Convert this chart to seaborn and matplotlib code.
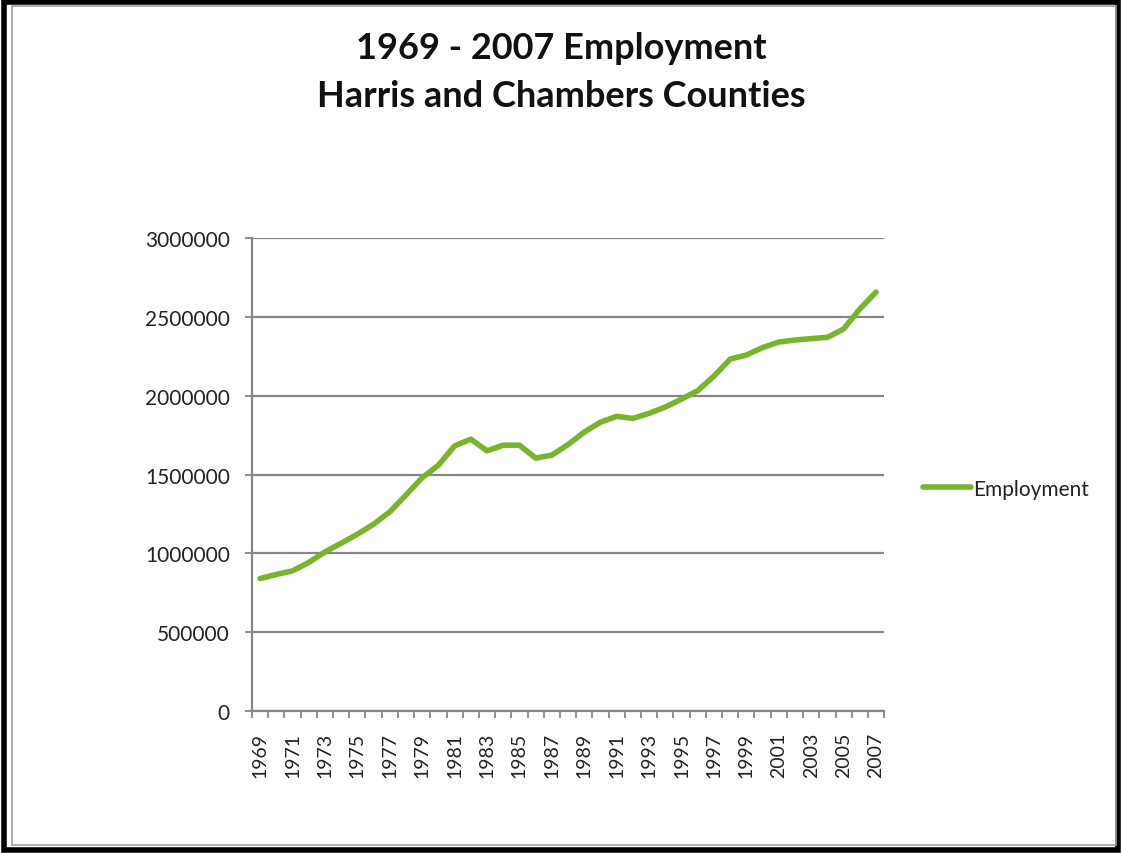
from matplotlib import pyplot as plt
from matplotlib.patches import Rectangle
from matplotlib.ticker import MultipleLocator, FixedLocator, StrMethodFormatter
import pandas as pd
import seaborn as sns

years = list(range(1969, 2008))
employment = [840000, 866000, 889000, 942000, 1009000, 1064000, 1121000, 1185000,
              1263000, 1370000, 1480000, 1559000, 1682000, 1724000, 1650000, 1686000,
              1686000, 1604000, 1623000, 1690000, 1769000, 1832000, 1869000, 1856000,
              1888000, 1928000, 1978000, 2032000, 2124000, 2232000, 2258000, 2305000,
              2340000, 2353000, 2362000, 2370000, 2423000, 2550000, 2657000]
title = '1969 - 2007 Employment\nHarris and Chambers Counties'

df = pd.DataFrame({'Year': years, 'Employment': employment})

sns.set_style('white')
plt.rcParams['font.family'] = ['Lato', 'DejaVu Sans']

green = '#7ab32e'
grid_gray = '#868686'

fig = plt.figure(figsize=(11.22, 8.54), dpi=100)
ax = fig.add_axes([0.2246, 0.1663, 0.788 - 0.2246, 0.7201 - 0.1663])

sns.lineplot(data=df, x='Year', y='Employment', color=green, linewidth=4,
             label='Employment', ax=ax, solid_capstyle='round')

# y axis, plain numbers
ax.set_ylim(0, 3000000)
ax.yaxis.set_major_locator(MultipleLocator(500000))
ax.yaxis.set_major_formatter(StrMethodFormatter('{x:.0f}'))
ax.yaxis.grid(True, color=grid_gray, linewidth=1.6)
ax.set_axisbelow(True)

# x axis, categories with ticks between them
ax.set_xlim(years[0] - 0.5, years[-1] + 0.5)
ax.xaxis.set_major_locator(FixedLocator(years[::2]))
ax.xaxis.set_minor_locator(FixedLocator([y - 0.5 for y in years] + [years[-1] + 0.5]))
ax.tick_params(axis='x', which='major', length=0, labelrotation=90, labelsize=14,
               pad=15, colors='#222222')
ax.tick_params(axis='x', which='minor', length=5, width=1.3, color=grid_gray,
               direction='out', bottom=True)
ax.tick_params(axis='y', length=5, width=1.3, color=grid_gray, labelsize=15,
               left=True, labelcolor='#222222', pad=11)
ax.set_xlabel('')
ax.set_ylabel('')

for side in ['top', 'right']:
    ax.spines[side].set_visible(False)
for side in ['left', 'bottom']:
    ax.spines[side].set_color(grid_gray)
    ax.spines[side].set_linewidth(1.6)

leg = ax.legend(loc='center left', bbox_to_anchor=(1.049, 0.47), frameon=False,
                fontsize=15, handlelength=2.3, handletextpad=0.1, borderaxespad=0)
for line in leg.get_lines():
    line.set_linewidth(4)
for text in leg.get_texts():
    text.set_color('#222222')

fig.suptitle(title, y=0.962, fontsize=26, fontweight='bold', linespacing=1.54,
             color='#111111')

# frame round the chart
fig.patches.append(Rectangle((0.004, 0.004), 0.992, 0.992, transform=fig.transFigure,
                             fill=False, edgecolor='black', linewidth=4))
fig.patches.append(Rectangle((0.011, 0.009), 0.984, 0.983, transform=fig.transFigure,
                             fill=False, edgecolor='#a0a0a0', linewidth=1.2))

plt.savefig('out.png', dpi=100)
